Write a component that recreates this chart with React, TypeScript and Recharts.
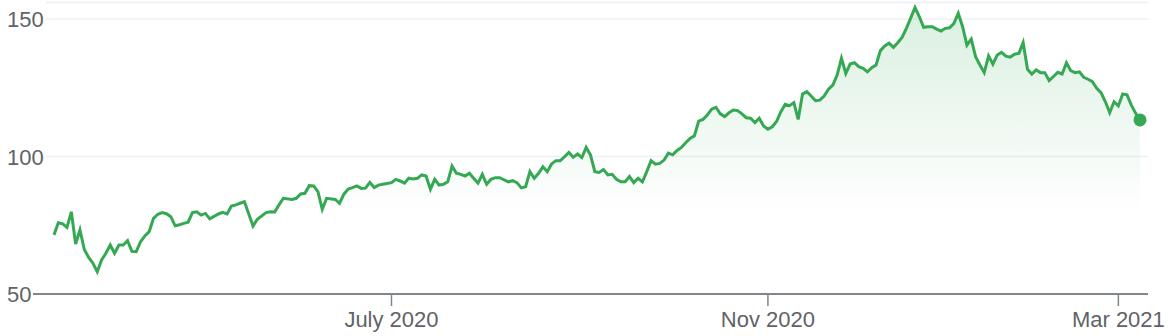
import { ComposedChart, Area, XAxis, YAxis, CartesianGrid, ReferenceDot } from 'recharts'

// trading-day index (0 = first day on chart) and closing price
const days = [
  0, 1, 2, 3, 4, 5, 6, 7, 8, 9, 10, 11, 12, 13, 14, 15, 16, 17, 18, 19,
  20, 21, 22, 23, 24, 25, 26, 27, 28, 29, 30, 31, 32, 33, 34, 35, 36, 38, 39, 40,
  41, 42, 43, 44, 46, 47, 49, 50, 51, 52, 53, 55, 56, 57, 58, 59, 60, 61, 62, 63,
  65, 66, 67, 68, 69, 70, 71, 72, 73, 74, 75, 76, 78, 79, 80, 81, 82, 83, 84, 85,
  86, 87, 88, 89, 90, 91, 92, 93, 94, 95, 96, 97, 98, 99, 100, 101, 102, 103, 105, 106,
  107, 108, 109, 110, 111, 112, 113, 114, 115, 116, 117, 118, 119, 120, 121, 122, 123, 124, 125, 126,
  127, 128, 129, 130, 131, 132, 133, 134, 135, 136, 137, 138, 139, 140, 141, 142, 143, 144, 145, 146,
  147, 148, 149, 150, 151, 152, 153, 154, 155, 156, 157, 158, 159, 160, 161, 162, 163, 164, 165, 166,
  167, 168, 169, 170, 171, 172, 173, 174, 175, 176, 177, 178, 179, 180, 181, 182, 183, 184, 185, 186,
  187, 188, 189, 190, 191, 192, 193, 194, 195, 196, 197, 198, 199, 200, 201, 202, 203, 204, 205, 206,
  207, 208, 209, 210, 211, 212, 213, 214, 215, 216, 217, 218, 219, 220, 221, 222, 223, 224, 225, 226,
  227, 228, 229, 230, 231, 232, 233, 234, 235, 236, 237, 238, 239, 240, 241, 242, 243, 244, 245, 246,
  247, 248, 249, 250, 251,
]

const prices = [
  71.5, 75.9, 75.5, 74.2, 79.9, 68.2, 73.3, 66.2, 63.3, 61.2, 58.1, 62.4, 64.8, 67.8, 64.8, 67.8, 67.8, 69.4, 65.5, 65.4,
  69.0, 71.1, 72.7, 77.5, 79.0, 79.6, 79.2, 78.1, 74.8, 75.2, 75.7, 76.1, 79.6, 79.9, 78.7, 79.3, 77.3, 79.1, 79.7, 79.1,
  82.0, 82.4, 83.0, 83.6, 74.7, 77.2, 79.6, 79.9, 79.8, 82.4, 84.8, 84.4, 84.8, 86.4, 86.6, 89.4, 89.3, 87.2, 80.8, 84.8,
  84.4, 83.0, 86.3, 88.2, 88.7, 89.3, 88.4, 88.5, 90.6, 88.7, 89.6, 89.9, 90.5, 91.7, 91.1, 90.3, 92.1, 91.8, 92.1, 93.3,
  92.9, 88.1, 91.7, 89.6, 89.9, 90.8, 96.5, 93.9, 93.5, 92.9, 93.9, 92.1, 90.3, 93.5, 89.9, 91.7, 92.3, 92.3, 90.8, 91.2,
  90.5, 88.6, 89.0, 94.5, 92.1, 93.9, 96.3, 94.5, 97.3, 98.5, 98.5, 99.9, 101.5, 99.7, 100.9, 99.6, 103.3, 100.5, 94.5, 94.2,
  95.3, 93.3, 93.5, 91.7, 90.8, 90.8, 92.7, 90.5, 92.1, 90.8, 94.5, 98.5, 97.2, 97.5, 98.7, 101.2, 100.6, 102.2, 103.3, 105.0,
  106.6, 107.5, 112.9, 113.5, 115.1, 117.2, 117.9, 115.5, 114.5, 115.9, 116.9, 116.7, 115.5, 114.1, 113.9, 112.3, 113.9, 111.1, 109.9, 110.8,
  112.7, 116.3, 119.0, 118.5, 119.6, 113.5, 122.7, 123.6, 122.0, 120.3, 120.5, 122.0, 124.5, 126.0, 129.6, 135.7, 130.2, 133.6, 134.1, 132.7,
  132.1, 130.8, 132.3, 133.3, 138.5, 140.2, 141.2, 139.7, 141.4, 143.3, 146.6, 150.3, 154.2, 150.8, 147.0, 147.2, 147.2, 146.3, 145.6, 146.6,
  146.8, 148.4, 152.1, 147.2, 140.5, 142.7, 136.3, 133.3, 130.5, 136.6, 133.6, 136.9, 137.9, 136.5, 136.1, 137.2, 137.5, 141.4, 131.7, 130.0,
  131.5, 130.5, 130.5, 127.6, 129.1, 130.6, 130.0, 134.1, 131.2, 130.5, 130.8, 128.8, 128.1, 127.2, 124.8, 123.2, 119.9, 115.9, 119.9, 118.4,
  122.7, 122.4, 118.7, 115.7, 113.3,
]

const tickDays = [78, 165, 246]
const tickLabels = ['July 2020', 'Nov 2020', 'Mar 2021']
const yTicks = [50, 100, 150]

const GREEN = '#34a853'
const TEXT = '#5f6368'
const AXIS = '#80868b'
const FONT = "'Liberation Sans', Arial, sans-serif"

const data = days.map((day, i) => ({ day, price: prices[i] }))

function YTick({ y, payload }: any) {
  return (
    <g>
      <text x={7} y={y + 8} fill={TEXT} fontSize={22} fontFamily={FONT}>
        {payload.value}
      </text>
      {payload.value === 50 && <line x1={33} x2={47} y1={y} y2={y} stroke={AXIS} strokeWidth={2} />}
    </g>
  )
}

export default function App() {
  const last = data.length - 1
  return (
    <div style={{ position: 'absolute', left: 0, top: 0, width: 1174, height: 336, background: '#fff' }}>
      <ComposedChart width={1174} height={336} data={data} margin={{ top: 2.5, right: 26, bottom: 0, left: 0 }}>
        <defs>
          <linearGradient id="fade" gradientUnits="userSpaceOnUse" x1="0" y1="8" x2="0" y2="213">
            <stop offset="0%" stopColor={GREEN} stopOpacity={0.3} />
            <stop offset="100%" stopColor={GREEN} stopOpacity={0} />
          </linearGradient>
        </defs>
        <CartesianGrid vertical={false} stroke="#f0f0f0" strokeWidth={1.5} />
        <XAxis
          dataKey="day"
          type="number"
          domain={[-1.85, 252.85]}
          allowDataOverflow
          ticks={tickDays}
          interval={0}
          tickFormatter={(v: number) => tickLabels[tickDays.indexOf(v)]}
          height={42}
          tickSize={12}
          tickMargin={5}
          axisLine={{ stroke: AXIS, strokeWidth: 2 }}
          tickLine={{ stroke: AXIS, strokeWidth: 1.5 }}
          tick={{ fill: TEXT, fontSize: 22, fontFamily: FONT }}
        />
        <YAxis
          type="number"
          domain={[50, 156]}
          allowDataOverflow
          ticks={yTicks}
          width={46}
          axisLine={false}
          tickLine={false}
          tick={<YTick />}
        />
        <Area
          type="linear"
          dataKey="price"
          baseValue={79.5}
          stroke={GREEN}
          strokeWidth={3}
          fill="url(#fade)"
          dot={false}
          activeDot={false}
          isAnimationActive={false}
        />
        <ReferenceDot x={days[last]} y={prices[last]} r={6.5} fill={GREEN} stroke="none" ifOverflow="visible" />
      </ComposedChart>
    </div>
  )
}
